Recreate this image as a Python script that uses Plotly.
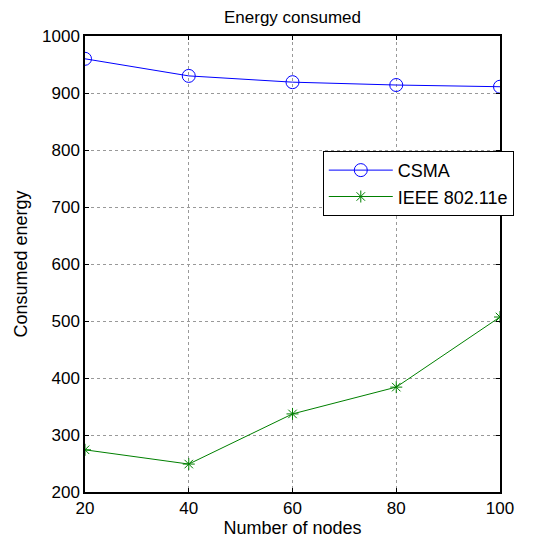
import plotly.graph_objects as go

nodes = [20, 40, 60, 80, 100]
csma = [960, 930, 919, 914, 911]
ieee = [274, 249, 337, 384, 507]
x_ticks = [20, 40, 60, 80, 100]
y_ticks = [200, 300, 400, 500, 600, 700, 800, 900, 1000]

fig = go.Figure()
fig.add_trace(go.Scatter(x=nodes, y=csma, name="CSMA", mode="lines+markers",
                         line=dict(color="#0000ff", width=1),
                         marker=dict(symbol="circle-open", size=13, color="#0000ff", line=dict(width=1))))
fig.add_trace(go.Scatter(x=nodes, y=ieee, name="IEEE 802.11e", mode="lines+markers",
                         line=dict(color="#008000", width=1),
                         marker=dict(symbol="asterisk-open", size=10, color="#008000", line=dict(width=1, color="#008000"))))

axis_common = dict(showline=True, linecolor="black", linewidth=1.5, mirror="ticks",
                   ticks="inside", ticklen=4, tickcolor="black", automargin=False,
                   showgrid=True, gridcolor="#999999", griddash="dot", gridwidth=1,
                   zeroline=False, tickfont=dict(size=17, color="black"))

fig.update_layout(
    width=541, height=541,
    paper_bgcolor="white", plot_bgcolor="white",
    margin=dict(l=77, r=49, t=28, b=57),
    font=dict(family="Liberation Sans, Arial", size=15, color="black"),
    title=dict(text="Energy consumed", x=0.5, xref="paper", xanchor="center",
               y=1-9/541, yanchor="middle", font=dict(size=17)),
    xaxis=dict(range=[20, 100], tickvals=x_ticks, title=dict(text="Number of nodes", standoff=0), **axis_common),
    yaxis=dict(range=[200, 1000], tickvals=y_ticks, title=dict(text="Consumed energy", standoff=10), **axis_common),
    legend=dict(x=0.573, y=0.748, xanchor="left", yanchor="top",
                bordercolor="black", borderwidth=1, bgcolor="white",
                itemwidth=64, font=dict(size=18)),
    showlegend=True,
)

fig.write_html("out.html")
